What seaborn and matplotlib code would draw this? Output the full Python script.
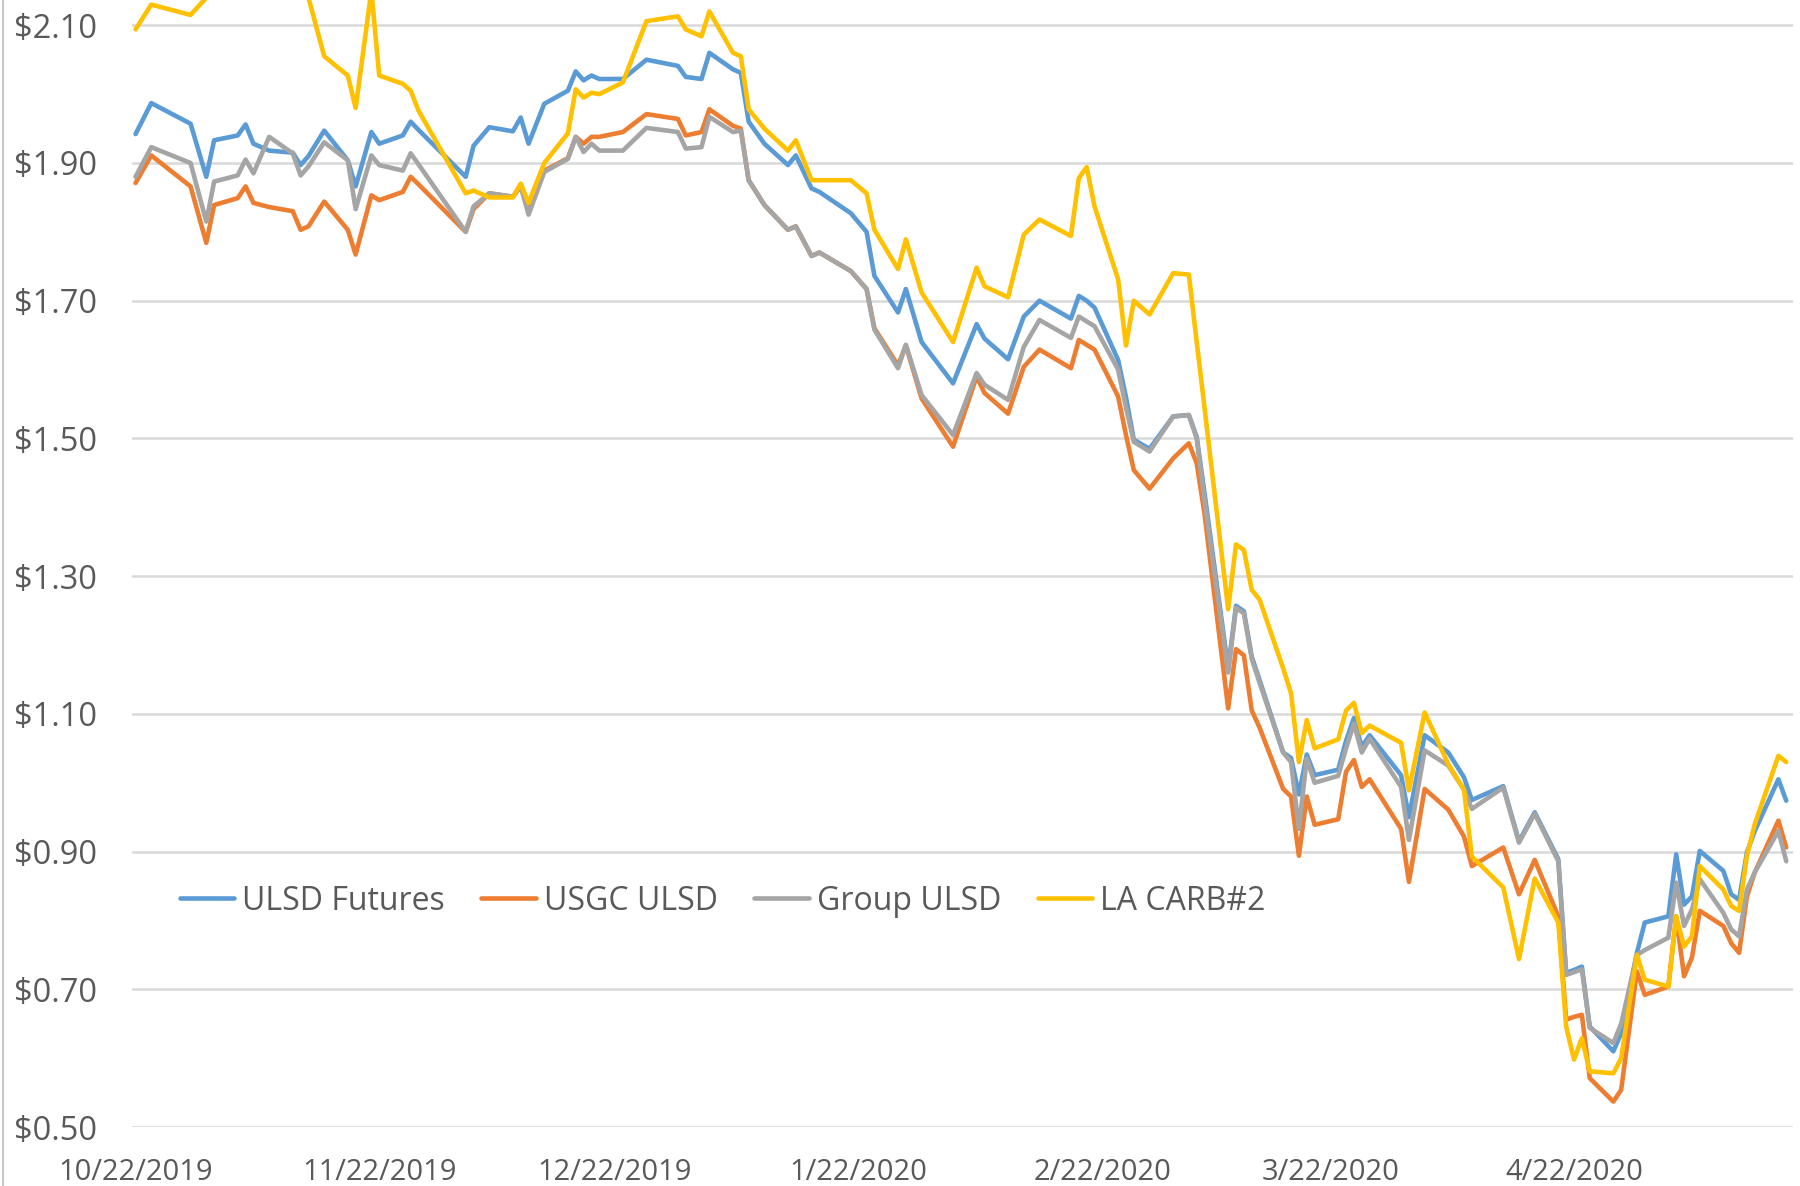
import matplotlib
matplotlib.use("Agg")
import matplotlib.pyplot as plt
import matplotlib.ticker as mticker
from matplotlib.lines import Line2D
import pandas as pd
import seaborn as sns

# ---------------- data ----------------
dates = [
    "2019-10-22", "2019-10-24", "2019-10-29", "2019-10-31", "2019-11-01", "2019-11-04",
    "2019-11-05", "2019-11-06", "2019-11-08", "2019-11-11", "2019-11-12", "2019-11-13",
    "2019-11-15", "2019-11-18", "2019-11-19", "2019-11-21", "2019-11-22", "2019-11-25",
    "2019-11-26", "2019-11-27", "2019-12-03", "2019-12-04", "2019-12-06", "2019-12-09",
    "2019-12-10", "2019-12-11", "2019-12-13", "2019-12-16", "2019-12-17", "2019-12-18",
    "2019-12-19",
    "2019-12-20", "2019-12-23", "2019-12-26", "2019-12-30", "2019-12-31", "2020-01-02",
    "2020-01-03", "2020-01-06", "2020-01-07", "2020-01-08", "2020-01-10", "2020-01-13",
    "2020-01-14", "2020-01-16", "2020-01-17", "2020-01-21", "2020-01-23", "2020-01-24",
    "2020-01-27", "2020-01-28", "2020-01-30", "2020-02-03", "2020-02-06", "2020-02-07",
    "2020-02-10", "2020-02-12", "2020-02-14", "2020-02-18", "2020-02-19", "2020-02-20",
    "2020-02-21", "2020-02-24", "2020-02-25", "2020-02-26", "2020-02-28", "2020-03-02",
    "2020-03-04", "2020-03-05", "2020-03-06",
    "2020-03-09", "2020-03-10", "2020-03-11", "2020-03-12", "2020-03-13", "2020-03-16",
    "2020-03-17", "2020-03-18", "2020-03-19", "2020-03-20", "2020-03-23", "2020-03-24",
    "2020-03-25", "2020-03-26", "2020-03-27", "2020-03-31", "2020-04-01", "2020-04-03",
    "2020-04-06", "2020-04-08", "2020-04-09", "2020-04-13", "2020-04-15", "2020-04-17",
    "2020-04-20", "2020-04-21", "2020-04-22", "2020-04-23", "2020-04-24", "2020-04-27",
    "2020-04-28", "2020-04-30", "2020-05-01", "2020-05-04", "2020-05-05", "2020-05-06",
    "2020-05-07", "2020-05-08", "2020-05-11", "2020-05-12", "2020-05-13", "2020-05-14",
    "2020-05-15", "2020-05-18", "2020-05-19",
]

ulsd_futures = [
    1.942, 1.987, 1.957, 1.880, 1.933, 1.940, 1.956, 1.928, 1.918, 1.915, 1.897, 1.910,
    1.947, 1.904, 1.866, 1.945, 1.928, 1.940, 1.960, 1.948, 1.880, 1.925, 1.952, 1.946,
    1.966, 1.928, 1.986, 2.005, 2.033, 2.020, 2.027,
    2.022, 2.022, 2.050, 2.041, 2.025, 2.022, 2.060, 2.036, 2.031, 1.960, 1.928, 1.897,
    1.911, 1.863, 1.858, 1.827, 1.800, 1.736, 1.683, 1.717, 1.640, 1.580, 1.666, 1.645,
    1.615, 1.677, 1.700, 1.674, 1.707, 1.700, 1.690, 1.614, 1.560, 1.498, 1.485, 1.532,
    1.534, 1.502, 1.420,
    1.166, 1.257, 1.249, 1.183, 1.149, 1.044, 1.036, 0.983, 1.041, 1.011, 1.019, 1.061,
    1.094, 1.052, 1.069, 1.011, 0.950, 1.069, 1.044, 1.008, 0.975, 0.995, 0.915, 0.957,
    0.889, 0.724, 0.728, 0.733, 0.646, 0.610, 0.636, 0.753, 0.797, 0.806, 0.896, 0.823,
    0.835, 0.901, 0.872, 0.838, 0.830, 0.899, 0.930, 1.005, 0.974,
]

usgc_ulsd = [
    1.871, 1.911, 1.866, 1.784, 1.839, 1.849, 1.866, 1.842, 1.836, 1.830, 1.803, 1.808,
    1.844, 1.803, 1.767, 1.853, 1.846, 1.858, 1.880, 1.869, 1.800, 1.833, 1.856, 1.851,
    1.866, 1.835, 1.889, 1.907, 1.938, 1.928, 1.938,
    1.938, 1.945, 1.971, 1.964, 1.940, 1.945, 1.978, 1.954, 1.950, 1.875, 1.839, 1.803,
    1.808, 1.765, 1.770, 1.743, 1.717, 1.660, 1.606, 1.635, 1.558, 1.488, 1.590, 1.566,
    1.536, 1.604, 1.629, 1.602, 1.643, 1.636, 1.629, 1.561, 1.505, 1.454, 1.427, 1.471,
    1.493, 1.464, 1.390,
    1.108, 1.194, 1.185, 1.105, 1.080, 0.991, 0.980, 0.894, 0.980, 0.939, 0.947, 1.016,
    1.033, 0.994, 1.005, 0.933, 0.856, 0.991, 0.961, 0.922, 0.879, 0.906, 0.838, 0.888,
    0.806, 0.656, 0.660, 0.663, 0.571, 0.537, 0.554, 0.726, 0.692, 0.704, 0.806, 0.719,
    0.746, 0.814, 0.792, 0.767, 0.753, 0.835, 0.870, 0.945, 0.906,
]

group_ulsd = [
    1.880, 1.923, 1.900, 1.815, 1.873, 1.882, 1.905, 1.885, 1.938, 1.914, 1.882, 1.895,
    1.930, 1.904, 1.833, 1.911, 1.897, 1.889, 1.914, 1.898, 1.800, 1.837, 1.856, 1.851,
    1.866, 1.825, 1.887, 1.906, 1.938, 1.916, 1.928,
    1.918, 1.918, 1.951, 1.945, 1.921, 1.923, 1.967, 1.945, 1.947, 1.875, 1.839, 1.803,
    1.808, 1.765, 1.770, 1.743, 1.717, 1.658, 1.602, 1.636, 1.563, 1.505, 1.595, 1.578,
    1.556, 1.633, 1.672, 1.646, 1.677, 1.670, 1.663, 1.600, 1.545, 1.495, 1.481, 1.532,
    1.534, 1.500, 1.410,
    1.160, 1.254, 1.246, 1.180, 1.145, 1.044, 1.030, 0.933, 1.035, 1.000, 1.010, 1.050,
    1.086, 1.044, 1.064, 0.994, 0.917, 1.047, 1.025, 0.990, 0.962, 0.993, 0.913, 0.955,
    0.886, 0.721, 0.725, 0.729, 0.644, 0.622, 0.650, 0.750, 0.757, 0.775, 0.855, 0.792,
    0.816, 0.860, 0.811, 0.787, 0.777, 0.845, 0.870, 0.930, 0.886,
]

la_carb2 = [
    2.094, 2.130, 2.115, 2.140, 2.170, 2.190, 2.200, 2.190, 2.200, 2.190, 2.180, 2.140,
    2.055, 2.027, 1.980, 2.150, 2.027, 2.015, 2.005, 1.976, 1.856, 1.860, 1.850, 1.850,
    1.870, 1.842, 1.900, 1.943, 2.007, 1.995, 2.002,
    2.000, 2.017, 2.106, 2.113, 2.094, 2.084, 2.120, 2.060, 2.055, 1.978, 1.950, 1.918,
    1.933, 1.875, 1.875, 1.875, 1.856, 1.803, 1.746, 1.789, 1.712, 1.640, 1.748, 1.721,
    1.705, 1.796, 1.818, 1.794, 1.878, 1.894, 1.837, 1.731, 1.635, 1.700, 1.680, 1.740,
    1.738, 1.640, 1.544,
    1.252, 1.346, 1.338, 1.280, 1.266, 1.166, 1.130, 1.030, 1.091, 1.050, 1.063, 1.105,
    1.116, 1.072, 1.083, 1.058, 0.989, 1.102, 1.027, 0.990, 0.893, 0.848, 0.744, 0.861,
    0.797, 0.646, 0.598, 0.629, 0.581, 0.578, 0.600, 0.750, 0.714, 0.704, 0.806, 0.762,
    0.777, 0.879, 0.845, 0.821, 0.814, 0.894, 0.940, 1.039, 1.030,
]

series_names = ["ULSD Futures", "USGC ULSD", "Group ULSD", "LA CARB#2"]
series_values = [ulsd_futures, usgc_ulsd, group_ulsd, la_carb2]
series_colors = ["#5B9BD5", "#ED7D31", "#A5A5A5", "#FFC000"]

y_ticks = [0.50, 0.70, 0.90, 1.10, 1.30, 1.50, 1.70, 1.90, 2.10]
x_ticks = ["2019-10-22", "2019-11-22", "2019-12-22", "2020-01-22",
           "2020-02-22", "2020-03-22", "2020-04-22"]

# ---------------- figure ----------------
sns.set_theme(style="white")
plt.rcParams["font.family"] = ["Open Sans", "DejaVu Sans"]

W, H = 1800, 1186
fig = plt.figure(figsize=(W / 100, H / 100), dpi=100)
fig.patch.set_facecolor("white")
ax = fig.add_axes([0.0733, 0.0497, 0.9227, 0.9503])

date_index = pd.to_datetime(dates)
for name, vals, col in zip(series_names, series_values, series_colors):
    df = pd.DataFrame({"date": date_index, "price": vals})
    sns.lineplot(data=df, x="date", y="price", ax=ax, color=col, lw=3.3,
                 label=name, estimator=None, errorbar=None, sort=True)

ax.set_ylim(0.50, 2.1367)
ax.set_xlim(pd.Timestamp("2019-10-21 13:00"), pd.Timestamp("2020-05-19 20:00"))

ax.set_yticks(y_ticks)
ax.yaxis.set_major_formatter(mticker.FuncFormatter(lambda v, p: f"${v:.2f}"))
xt = pd.to_datetime(x_ticks)
ax.set_xticks(xt)
ax.set_xticklabels([f"{d.month}/{d.day}/{d.year}" for d in xt])

ax.grid(False)
ax.yaxis.grid(True, color="#D9D9D9", lw=1.8)
ax.set_axisbelow(True)
for s in ax.spines.values():
    s.set_visible(False)

ax.tick_params(axis="both", length=0, labelcolor="#595959")
ax.tick_params(axis="y", pad=25, labelsize=23.5)
ax.tick_params(axis="x", pad=22, labelsize=21)
ax.set_xlabel("")
ax.set_ylabel("")

leg = ax.legend(loc="center left", bbox_to_anchor=(0.021, 0.2005), ncol=4,
                frameon=False, fontsize=23, handlelength=1.7, handletextpad=0.25,
                columnspacing=1.15, borderaxespad=0.0, labelcolor="#595959")
for h in leg.legend_handles:
    h.set_linewidth(3.3)

fig.add_artist(Line2D([0.0015, 0.0015], [0, 1], transform=fig.transFigure,
                      color="#C8C8C8", lw=1.5))

fig.savefig("out.png", dpi=100, facecolor="white")
